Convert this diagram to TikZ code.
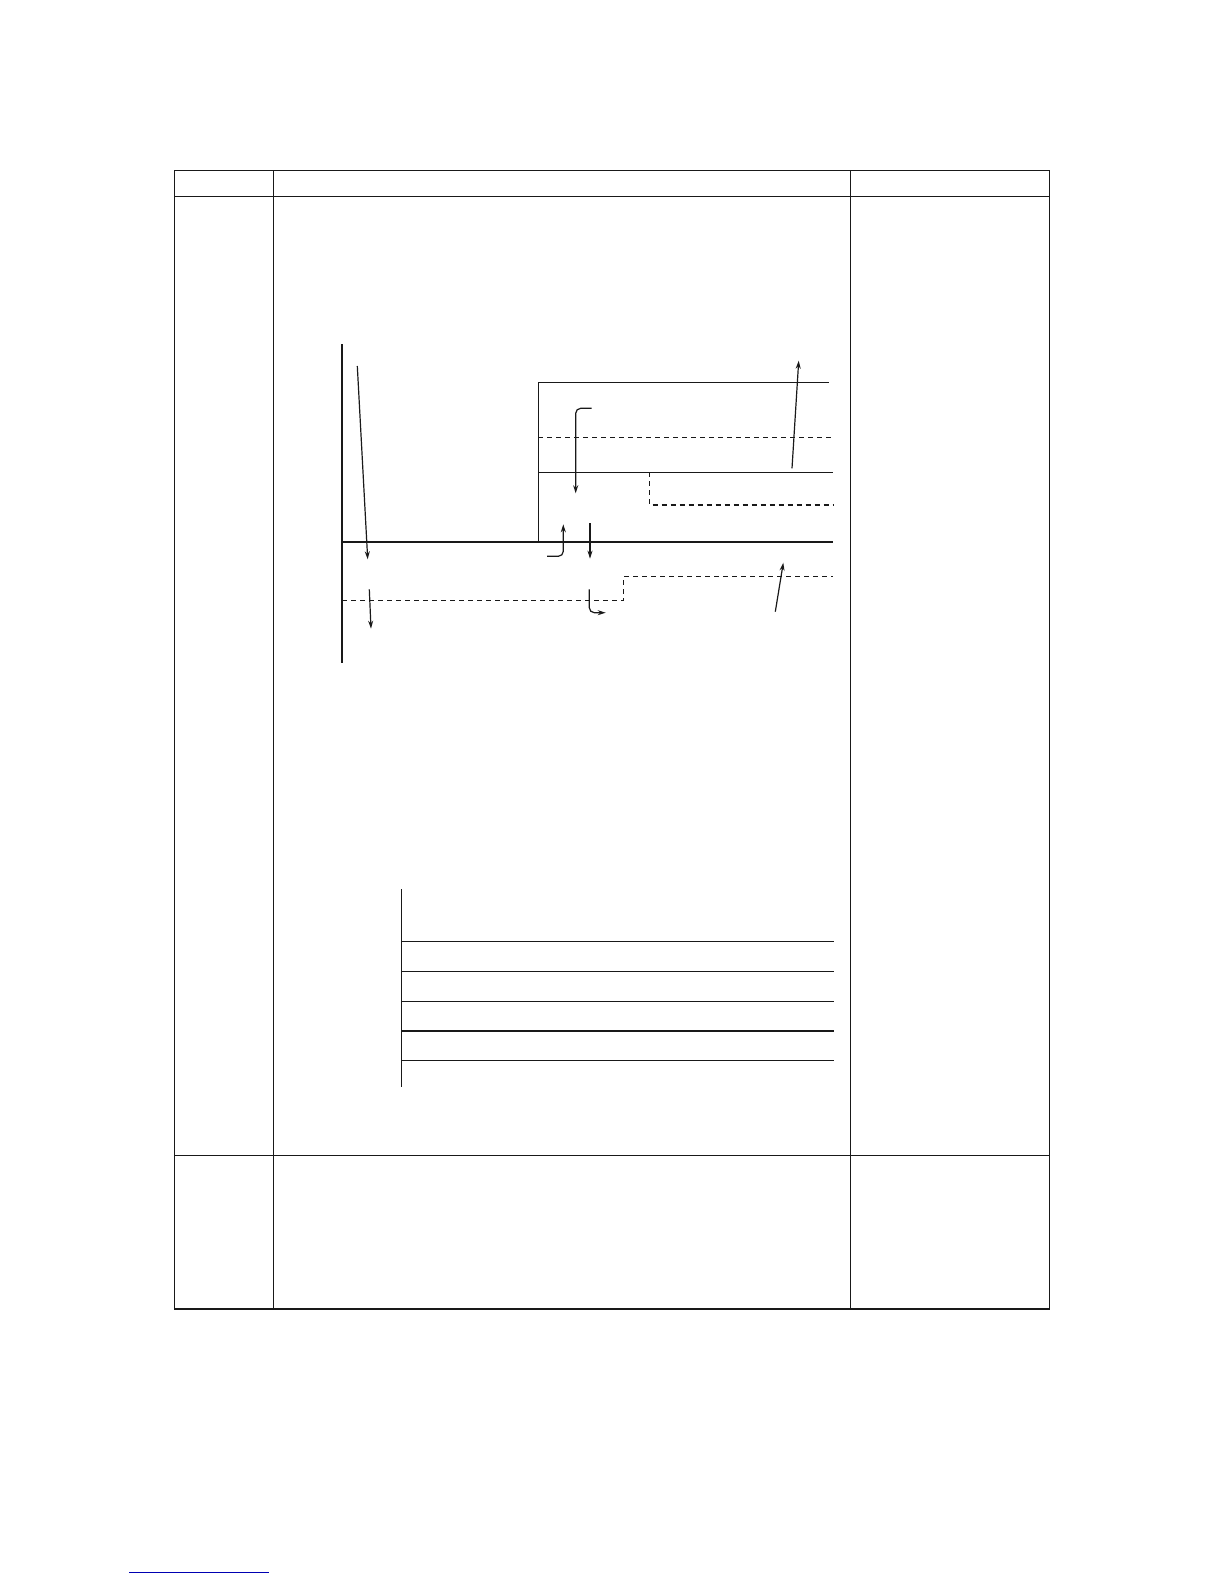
\documentclass[tikz,border=0pt]{standalone}
\usetikzlibrary{arrows.meta}
\begin{document}
\begin{tikzpicture}[x=1pt,y=-1pt,
  frame/.style={line width=1.4pt,black!90},
  thin line/.style={line width=1.4pt,black!90},
  heavy/.style={line width=2.3pt,black!90},
  dash line/.style={line width=1.3pt,black!90,dash pattern=on 5pt off 4pt},
  pointer/.style={line width=1.2pt,black!90,-{Stealth[length=8pt,width=5pt]},rounded corners=5pt},
  link/.style={line width=1.6pt,blue!70!black}]
\useasboundingbox (0,0) rectangle (1224,1584);
% table frame
\draw[frame] (174.3,170.3) rectangle (1049.3,1309);
\draw[frame] (174.3,196.3) -- (1049.3,196.3);
\draw[frame] (174.3,1155.3) -- (1049.3,1155.3);
\draw[frame] (273.7,170.3) -- (273.7,1309);
\draw[frame] (850.3,170.3) -- (850.3,1309);
% diagram 1
\draw[thin line] (342,344) -- (342,663);
\draw[heavy] (342,541.7) -- (833,541.7);
\draw[thin line] (538.3,541.7) -- (538.3,382.7) -- (829,382.7);
\draw[dash line] (538.3,437.3) -- (833,437.3);
\draw[thin line] (538.3,472.3) -- (833,472.3);
\draw[dash line] (649.3,472.3) -- (649.3,505) -- (833,505);
\draw[dash line] (342,600.3) -- (623.3,600.3) -- (623.3,576.7) -- (833,576.7);
% arrows
\coordinate (a1s) at (357.3,366); \coordinate (a1e) at (367.7,559.3);
\draw[pointer] (a1s) -- (a1e);
\coordinate (a2s) at (369.3,589.3); \coordinate (a2e) at (371,628.7);
\draw[pointer] (a2s) -- (a2e);
\coordinate (a3s) at (591.7,408.3); \coordinate (a3c) at (575.7,408.3); \coordinate (a3e) at (575.7,493.3);
\draw[pointer] (a3s) -- (a3c) -- (a3e);
\coordinate (a4s) at (547,556.3); \coordinate (a4c) at (563.3,556.3); \coordinate (a4e) at (563.3,524.3);
\draw[pointer] (a4s) -- (a4c) -- (a4e);
\coordinate (a5s) at (590,523.3); \coordinate (a5e) at (590,558.7);
\draw[pointer] (a5s) -- (a5e);
\coordinate (a6s) at (589.3,589.3); \coordinate (a6c) at (589.3,612.7); \coordinate (a6e) at (605.7,612.7);
\draw[pointer] (a6s) -- (a6c) -- (a6e);
\coordinate (a7s) at (792,468.3); \coordinate (a7e) at (798.7,360.7);
\draw[pointer] (a7s) -- (a7e);
\coordinate (a8s) at (775.3,611.7); \coordinate (a8e) at (783.3,562.7);
\draw[pointer] (a8s) -- (a8e);
% diagram 2
\draw[thin line] (401.7,889.3) -- (401.7,1087);
\draw[thin line] (401.7,941.3) -- (834,941.3);
\draw[thin line] (401.7,971.3) -- (834,971.3);
\draw[thin line] (401.7,1001.3) -- (834,1001.3);
\draw[heavy] (401.7,1031) -- (834,1031);
\draw[thin line] (401.7,1060.7) -- (834,1060.7);
% link underline
\draw[link] (129.3,1572.4) -- (268.6,1572.4);
\end{tikzpicture}
\end{document}
